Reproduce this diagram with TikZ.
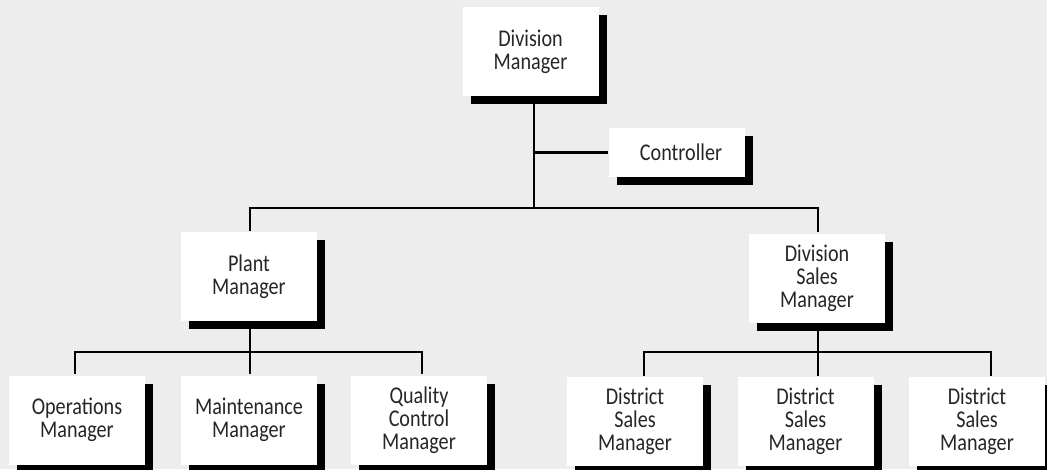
\documentclass[tikz,border=0pt]{standalone}
\usepackage{fontspec}
\setmainfont{Carlito}[FakeStretch=0.84]
\usepackage{tikz}
\usetikzlibrary{shadows}

\begin{document}
\begin{tikzpicture}[x=1pt, y=-1pt, line width=2.5pt,
    every node/.style={align=center, font=\fontsize{24}{23}\selectfont, text=black!85},
    post/.style={fill=white, inner sep=0pt, minimum width=136pt, minimum height=89pt,
      drop shadow={shadow xshift=8pt, shadow yshift=-8pt, fill=black, opacity=1}},
    staff/.style={post, minimum height=49pt}]
      \colorlet{pagebg}{black!7}

      \useasboundingbox (0,0) rectangle (1047,469);
      \fill[pagebg] (0,0) rectangle (1047,469);

      % top of the chart
      \node[post] (dm) at (530.5, 51.5) {Division\\Manager};
      \node[staff] (ctl) at (677, 152.5) {\hspace{8pt}Controller};
      \node[post] (pm) at (249, 276.5) {Plant\\Manager};
      \node[post] (dsm) at (817, 278) {Division\\Sales\\Manager};

      % plant side
      \foreach \n/\x/\t in {ops/77/{Operations\\Manager}, mnt/249/{Maintenance\\Manager}, qc/419/{Quality\\Control\\Manager}} {
        \node[post] (\n) at (\x, 420) {\t};
      }
      % sales side
      \foreach \n/\x in {ds1/635, ds2/805.5, ds3/977} {
        \node[post] (\n) at (\x, 421.5) {District\\Sales\\Manager};
      }

      \coordinate (bar) at (534, 208);
      \coordinate (pbar) at (250, 352);
      \coordinate (sbar) at (818, 352);

      \draw (dm.south -| bar) -- (bar);
      \draw (ctl.west) -- (ctl.west -| bar);
      \draw (pm.north -| 250,0) |- (bar) -| (dsm.north -| 818,0);

      \draw (pm.south -| pbar) -- (mnt.north -| pbar);
      \draw (ops.north -| 75,0) |- (pbar) -| (qc.north -| 422,0);

      \draw (dsm.south -| sbar) -- (ds2.north -| sbar);
      \draw (ds1.north -| 644,0) |- (sbar) -| (ds3.north -| 991,0);
    \end{tikzpicture}
\end{document}
